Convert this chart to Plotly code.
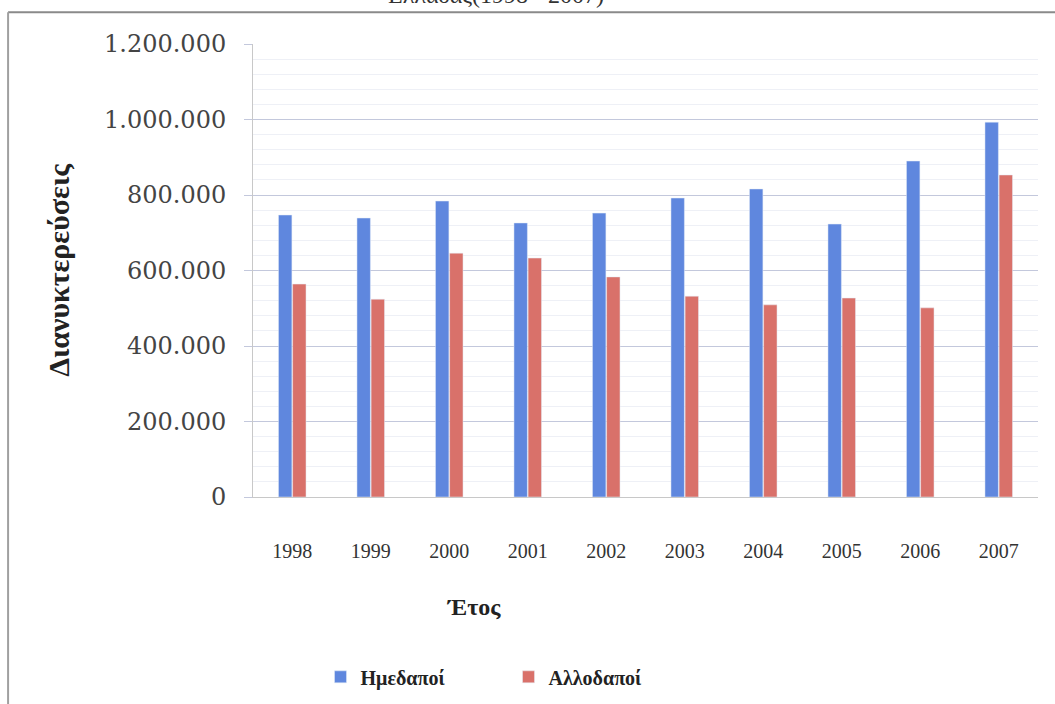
import plotly.graph_objects as go

years = ['1998', '1999', '2000', '2001', '2002', '2003', '2004', '2005', '2006', '2007']
domestic = [747000, 739000, 784000, 726000, 752000, 792000, 816000, 723000, 890000, 993000]
foreign = [564000, 524000, 646000, 633000, 583000, 532000, 509000, 527000, 501000, 853000]
series_names = ['Ημεδαποί', 'Αλλοδαποί']

SERIF = 'Liberation Serif'
BLUE = '#5f87de'
RED = '#d9716a'
GRID = '#c3c8dc'
CONFIG = {'displayModeBar': False}
JAVASCRIPT = 'document.body.style.margin = "0";'

fig = go.Figure()
fig.add_trace(go.Bar(x=years, y=domestic, name=series_names[0], marker_color=BLUE))
fig.add_trace(go.Bar(x=years, y=foreign, name=series_names[1], marker_color=RED))

fig.update_layout(
    width=1055,
    height=704,
    margin=dict(l=253, r=17, t=44, b=207, autoexpand=False),
    paper_bgcolor='white',
    plot_bgcolor='white',
    barmode='group',
    bargap=0.64,
    bargroupgap=0.05,
    separators=',.',
    font=dict(family=SERIF, color='#333333'),
    showlegend=True,
    legend=dict(
        orientation='h',
        x=0.086,
        y=-0.397,
        xanchor='left',
        yanchor='middle',
        entrywidth=143,
        entrywidthmode='pixels',
        font=dict(family=SERIF, size=20, color='#222222', weight='bold'),
        itemwidth=30,
    ),
)

fig.update_yaxes(
    range=[0, 1200000],
    dtick=200000,
    tickformat=',d',
    tickfont=dict(family='DejaVu Serif', size=24, color='#444444'),
    ticks='outside',
    ticklen=8,
    tickcolor=GRID,
    ticklabelstandoff=13,
    showgrid=True,
    gridcolor=GRID,
    gridwidth=1,
    showline=True,
    linecolor='#c8c8c8',
    zeroline=False,
    minor=dict(dtick=40000, showgrid=True, gridcolor='#eef0f6'),
    title=dict(text='<b>Διανυκτερεύσεις</b>', font=dict(family=SERIF, size=30, color='#222222'), standoff=25),
)

fig.update_xaxes(
    tickfont=dict(family=SERIF, size=20, color='#333333'),
    ticklabelstandoff=36,
    showline=True,
    linecolor='#c8c8c8',
    showgrid=False,
)

# x-axis title sits left of the plot centre in the original
fig.add_annotation(
    text='<b>Έτος</b>', xref='paper', yref='paper', x=0.245, y=-0.276,
    showarrow=False, font=dict(family=SERIF, size=24, color='#222222'),
)

# chart title, partly cut off by the top of the scan
fig.add_annotation(
    text='Ελλάδας(1998 - 2007)', xref='paper', yref='paper', x=0.31, y=1.075,
    xanchor='center', yanchor='bottom', showarrow=False,
    font=dict(family=SERIF, size=24, color='#333333'),
)

# chart frame edges
fig.add_shape(type='line', xref='paper', yref='paper', x0=-0.312, x1=1.03, y0=1.07, y1=1.07,
              line=dict(color='#8a8a8a', width=2))
fig.add_shape(type='line', xref='paper', yref='paper', x0=-0.312, x1=-0.312, y0=1.07, y1=-0.47,
              line=dict(color='#a0a0a0', width=2))

fig.write_html('out.html', config=CONFIG, post_script=[JAVASCRIPT])
